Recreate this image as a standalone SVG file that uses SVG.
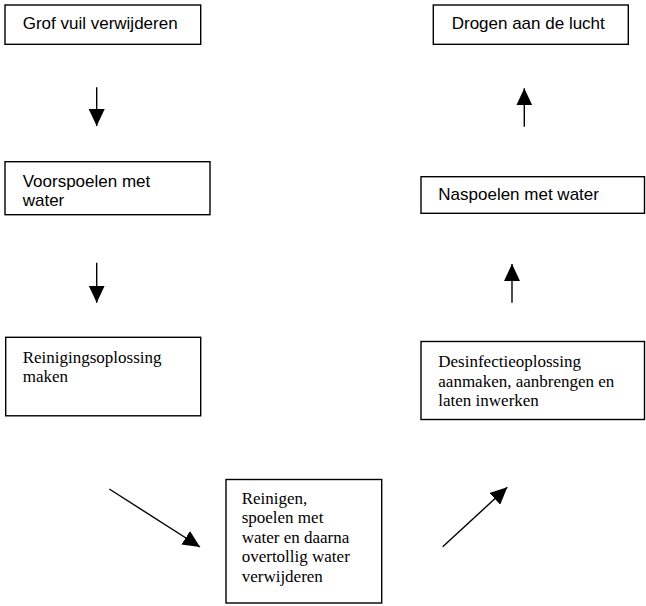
<svg xmlns="http://www.w3.org/2000/svg" width="646" height="606" viewBox="0 0 646 606">
<style>
.box{fill:#fff;stroke:#000;stroke-width:1.4}
.sans{font-family:"Liberation Sans",Arial,sans-serif;font-size:17px;fill:#000}
.serif{font-family:"Liberation Serif","Times New Roman",serif;font-size:17px;fill:#000}
.conn{stroke:#000;stroke-width:1.4;fill:none;marker-end:url(#ah)}
</style>
<defs>
<marker id="ah" markerUnits="userSpaceOnUse" markerWidth="18" markerHeight="16" refX="17" refY="8" orient="auto" viewBox="0 0 18 16">
<path d="M0,0 L17,8 L0,16 z" fill="#000"/>
</marker>
</defs>
<rect width="646" height="606" fill="#fff"/>
<g id="n1"><rect class="box" x="5" y="5" width="195.7" height="39.3"/><text class="sans" x="22.7" y="28.5">Grof vuil verwijderen</text></g>
<g id="n2"><rect class="box" x="5" y="161.7" width="205" height="53"/><text class="sans" x="22.7" y="186.7">Voorspoelen met</text><text class="sans" x="22.7" y="206.3">water</text></g>
<g id="n3"><rect class="box" x="5.7" y="337.3" width="195" height="78.5"/><text class="serif" x="22.7" y="363">Reinigingsoplossing</text><text class="serif" x="22.7" y="382">maken</text></g>
<g id="n4"><rect class="box" x="226" y="479.5" width="155.7" height="123.5"/><text class="serif" x="241.7" y="503.5">Reinigen,</text><text class="serif" x="241.7" y="523">spoelen met</text><text class="serif" x="241.7" y="542.5">water en daarna</text><text class="serif" x="241.7" y="562">overtollig water</text><text class="serif" x="241.7" y="581.5">verwijderen</text></g>
<g id="n5"><rect class="box" x="421" y="341.5" width="223.5" height="78"/><text class="serif" x="438.3" y="367.3">Desinfectieoplossing</text><text class="serif" x="438.3" y="386.8">aanmaken, aanbrengen en</text><text class="serif" x="438.3" y="406.3">laten inwerken</text></g>
<g id="n6"><rect class="box" x="421" y="176.7" width="223.5" height="36.6"/><text class="sans" x="438.3" y="200">Naspoelen met water</text></g>
<g id="n7"><rect class="box" x="433.3" y="5" width="195" height="39.3"/><text class="sans" x="451.7" y="28.5">Drogen aan de lucht</text></g>
<g id="connectors">
<line class="conn" x1="96.7" y1="87.3" x2="96.7" y2="126"/>
<line class="conn" x1="96.7" y1="262.7" x2="96.7" y2="302.7"/>
<line class="conn" x1="109.3" y1="489" x2="200" y2="547"/>
<line class="conn" x1="442.7" y1="546.7" x2="507.3" y2="487.3"/>
<line class="conn" x1="512" y1="302.7" x2="512" y2="264"/>
<line class="conn" x1="524.3" y1="126.7" x2="524.3" y2="88.3"/>
</g>
</svg>
